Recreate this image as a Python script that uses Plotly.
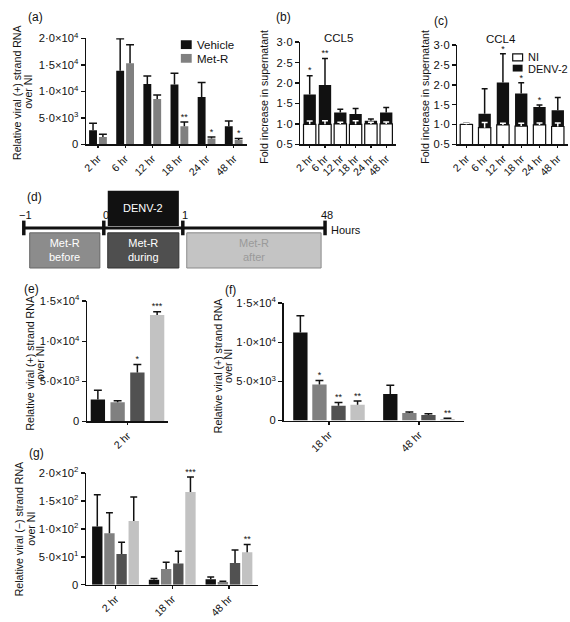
import plotly.graph_objects as go

W, H = 570, 622
FONT = "Liberation Sans, Arial, Helvetica, sans-serif"
INK = "#111111"

# ---------------- data ----------------
hours_a = ["2 hr", "6 hr", "12 hr", "18 hr", "24 hr", "48 hr"]
vehicle_a = [2650, 13900, 11400, 11300, 8950, 3400]
vehicle_a_err = [1350, 6000, 1500, 2100, 2700, 1000]
metr_a = [1400, 15300, 8550, 3400, 1100, 800]
metr_a_err = [500, 3500, 750, 800, 300, 300]
metr_a_sig = ["", "", "", "**", "*", "*"]

hours_bc = ["2 hr", "6 hr", "12 hr", "18 hr", "24 hr", "48 hr"]
ccl5_ni = [0.99, 0.99, 1.0, 0.99, 1.0, 1.0]
ccl5_ni_err = [0.08, 0.09, 0.04, 0.09, 0.04, 0.05]
ccl5_denv = [1.72, 1.95, 1.28, 1.24, 1.08, 1.28]
ccl5_denv_err = [0.46, 0.65, 0.08, 0.14, 0.04, 0.12]
ccl5_sig = ["*", "**", "", "", "", ""]

ccl4_ni = [1.0, 0.92, 0.99, 0.96, 0.99, 0.95]
ccl4_ni_err = [0.03, 0.13, 0.04, 0.07, 0.05, 0.09]
ccl4_denv = [1.02, 1.27, 2.06, 1.78, 1.44, 1.36]
ccl4_denv_err = [0.02, 0.63, 0.72, 0.27, 0.05, 0.32]
ccl4_sig = ["", "", "*", "*", "*", ""]

timeline_ticks = ["\u22121", "0", "1", "48"]
timeline_unit = "Hours"
infection_label = "DENV-2"
stage_labels = ["Met-R<br>before", "Met-R<br>during", "Met-R<br>after"]

groups = ["Vehicle", "Met-R before", "Met-R during", "Met-R after"]

hours_e = ["2 hr"]
e_vals = [[2750], [2400], [6100], [13300]]
e_errs = [[1150], [200], [1000], [400]]
e_sig = [[""], [""], ["*"], ["***"]]

hours_f = ["18 hr", "48 hr"]
f_vals = [[11250, 3400], [4600, 950], [1900, 700], [2000, 200]]
f_errs = [[2150, 1100], [500, 150], [400, 150], [500, 100]]
f_sig = [["", ""], ["*", ""], ["**", ""], ["**", "**"]]

hours_g = ["2 hr", "18 hr", "48 hr"]
g_vals = [[104, 9, 10], [92, 28, 5], [55, 38, 39], [114, 166, 58]]
g_errs = [[57, 2, 4], [37, 12, 1], [21, 22, 23], [43, 27, 14]]
g_sig = [["", "", ""], ["", "", ""], ["", "", ""], ["", "***", "**"]]

y_lab_1e4 = ["0", "5\u00b70\u00d710<sup>3</sup>", "1\u00b70\u00d710<sup>4</sup>",
             "1\u00b75\u00d710<sup>4</sup>", "2\u00b70\u00d710<sup>4</sup>"]
y_val_1e4 = [0, 5000, 10000, 15000, 20000]
y_lab_fold = ["0\u00b75", "1\u00b70", "1\u00b75", "2\u00b70", "2\u00b75", "3\u00b70"]
y_val_fold = [0.5, 1.0, 1.5, 2.0, 2.5, 3.0]
y_lab_1e2 = ["0", "5\u00b70\u00d710<sup>1</sup>", "1\u00b70\u00d710<sup>2</sup>",
             "1\u00b75\u00d710<sup>2</sup>", "2\u00b70\u00d710<sup>2</sup>"]
y_val_1e2 = [0, 50, 100, 150, 200]

# ---------------- styling / geometry ----------------
group_colors = ["#111111", "#808080", "#515151", "#c2c2c2"]
stage_fill = ["#8c8c8c", "#4f4f4f", "#c4c4c4"]
stage_line = ["#666666", "#333333", "#8a8a8a"]
stage_text = ["white", "white", "#9a9a9a"]
TITLE_SIZE = 10.6


def fx(p):
    return p / W


def fy(p):
    return 1 - p / H


fig = go.Figure()
axes_layout = {}
annotations = []
shapes = []


def make_axes(idx, xpx, ypx, xrange, yrange, labels, yvals, ylabs):
    xs = "xaxis" if idx == 1 else f"xaxis{idx}"
    ys = "yaxis" if idx == 1 else f"yaxis{idx}"
    xa = "x" if idx == 1 else f"x{idx}"
    ya = "y" if idx == 1 else f"y{idx}"
    axes_layout[xs] = dict(
        domain=[fx(xpx[0]), fx(xpx[1])], range=xrange, anchor=ya,
        tickmode="array", tickvals=list(range(len(labels))), ticktext=labels,
        tickangle=-45, showline=True, linecolor=INK, linewidth=1.5,
        ticks="outside", ticklen=2.5, tickwidth=1.2, tickcolor=INK,
        showgrid=False, zeroline=False, fixedrange=True,
        tickfont=dict(family=FONT, size=10.6, color=INK))
    axes_layout[ys] = dict(
        domain=[fy(ypx[1]), fy(ypx[0])], range=yrange, anchor=xa,
        tickmode="array", tickvals=yvals, ticktext=ylabs,
        showline=True, linecolor=INK, linewidth=1.5,
        ticks="outside", ticklen=4, tickwidth=1.5, tickcolor=INK,
        showgrid=False, zeroline=False, fixedrange=True,
        tickfont=dict(family=FONT, size=11.2, color=INK))
    ppu = (xpx[1] - xpx[0]) / (xrange[1] - xrange[0])
    return xa, ya, ppu


def add_bars(xa, ya, vals, off, width, color, line_color=None, line_w=0):
    xs = [i + off for i in range(len(vals))]
    fig.add_trace(go.Bar(
        x=xs, y=vals, width=width, xaxis=xa, yaxis=ya,
        marker=dict(color=color, line=dict(color=line_color or color, width=line_w)),
        showlegend=False, hoverinfo="skip"))
    return xs


def add_err(xa, ya, xs, tops, errs, half, color):
    X, Y = [], []
    for x, t, e in zip(xs, tops, errs):
        if e <= 0:
            continue
        X += [x, x, None, x - half, x + half, None]
        Y += [t, t + e, None, t + e, t + e, None]
    fig.add_trace(go.Scatter(x=X, y=Y, mode="lines", line=dict(color=color, width=1.5),
                             xaxis=xa, yaxis=ya, showlegend=False, hoverinfo="skip",
                             cliponaxis=False))


def add_sig(xa, ya, xs, tops, errs, marks):
    X, Y, T = [], [], []
    for x, t, e, m in zip(xs, tops, errs, marks):
        if m:
            X.append(x)
            Y.append(t + e)
            T.append(m)
    if X:
        fig.add_trace(go.Scatter(x=X, y=Y, text=T, mode="text", textposition="top center",
                                 textfont=dict(family=FONT, size=9, color=INK),
                                 xaxis=xa, yaxis=ya, showlegend=False, hoverinfo="skip",
                                 cliponaxis=False))


def note(text, x, y, size=TITLE_SIZE, color=INK, xanchor="center", yanchor="middle", angle=0):
    annotations.append(dict(text=text, x=fx(x), y=fy(y), xref="paper", yref="paper",
                            showarrow=False, textangle=angle, xanchor=xanchor, yanchor=yanchor,
                            font=dict(family=FONT, size=size, color=color)))


def rect(x0, y0, x1, y1, fill, line="rgba(0,0,0,0)", lw=0):
    shapes.append(dict(type="rect", xref="paper", yref="paper", x0=fx(x0), x1=fx(x1),
                       y0=fy(y1), y1=fy(y0), fillcolor=fill, line=dict(color=line, width=lw),
                       layer="above"))


def seg(x0, y0, x1, y1, color, lw):
    shapes.append(dict(type="line", xref="paper", yref="paper", x0=fx(x0), x1=fx(x1),
                       y0=fy(y0), y1=fy(y1), line=dict(color=color, width=lw), layer="above"))


# ---------------- panel (a) ----------------
xa, ya, ppu = make_axes(1, (80, 243), (31, 139.5), [-0.44, 5.49], [0, 20000],
                        hours_a, y_val_1e4, y_lab_1e4)
bw = 8 / ppu
off = 5 / ppu
xs_v = add_bars(xa, ya, vehicle_a, -off, bw, group_colors[0])
xs_m = add_bars(xa, ya, metr_a, off, bw, group_colors[1])
add_err(xa, ya, xs_v, vehicle_a, vehicle_a_err, 4 / ppu, INK)
add_err(xa, ya, xs_m, metr_a, metr_a_err, 4 / ppu, INK)
add_sig(xa, ya, xs_m, metr_a, metr_a_err, metr_a_sig)
note("(a)", 19, 9, size=12, xanchor="left")
note("Relative viral (+) strand RNA", 10, 86, angle=-90)
note("over NI", 21, 86, angle=-90)
rect(176, 33, 187, 42, group_colors[0])
rect(176, 47, 187, 56, group_colors[1])
note("Vehicle", 190, 38, size=11.5, xanchor="left")
note("Met-R", 190, 52, size=11.5, xanchor="left")


# ---------------- panels (b), (c) ----------------
def fold_panel(idx, xpx, ypx, xrange, ni, ni_err, denv, denv_err, sig, title, tpos, letter, lpos, ytx):
    xa, ya, ppu = make_axes(idx, xpx, ypx, xrange, [0.5, 3.0], hours_bc, y_val_fold, y_lab_fold)
    bw = 12.5 / ppu
    xs = add_bars(xa, ya, denv, 0, bw, INK)
    add_bars(xa, ya, ni, 0, bw, "white", INK, 1.2)
    add_err(xa, ya, xs, denv, denv_err, 3 / ppu, INK)
    add_err(xa, ya, xs, ni, ni_err, 3 / ppu, "white")
    add_sig(xa, ya, xs, denv, denv_err, sig)
    note(title, tpos[0], tpos[1], size=11.5)
    note(letter, lpos[0], lpos[1], size=12, xanchor="left")
    note("Fold increase in supernatant", ytx, 91, angle=-90)


fold_panel(2, (297, 394), (35, 139.5), [-0.61, 5.65], ccl5_ni, ccl5_ni_err, ccl5_denv,
           ccl5_denv_err, ccl5_sig, "CCL5", (336, 31), "(b)", (270, 9), 260)
fold_panel(3, (456, 568), (38, 139.5), [-0.49, 5.56], ccl4_ni, ccl4_ni_err, ccl4_denv,
           ccl4_denv_err, ccl4_sig, "CCL4", (500, 32), "(c)", (430, 13), 423)
rect(512, 47, 522, 54, "white", INK, 1.2)
rect(512, 58, 522, 65, INK)
note("NI", 525, 50.5, size=11, xanchor="left")
note("DENV-2", 525, 62, size=11, xanchor="left")

# ---------------- panel (d) timeline ----------------
note("(d)", 18, 193, size=12, xanchor="left")
tick_px = [17, 98, 178, 322]
line_y = 225
rect(102, 187, 174, 223, INK)
note(infection_label, 138, 205, size=11, color="white")
seg(tick_px[0], line_y, tick_px[-1], line_y, INK, 3)
for tx, lab in zip(tick_px, timeline_ticks):
    seg(tx, line_y - 7.5, tx, line_y + 7.5, INK, 3.5)
    note(lab, tx + 2, 212, size=11)
note(timeline_unit, 326, 227, size=11, xanchor="left")
stage_x = [(23, 94), (102, 174), (182, 318)]
for (x0, x1), lab, fc, lc, tc in zip(stage_x, stage_labels, stage_fill, stage_line, stage_text):
    rect(x0, 230, x1, 266, fc, lc, 1)
    note(lab, (x0 + x1) / 2, 248, size=11, color=tc)


# ---------------- panels (e), (f), (g) ----------------
def group_panel(idx, xpx, ypx, xrange, yrange, labels, vals, errs, sig, yv, yl,
                bar_px, pitch_px, cap_px):
    xa, ya, ppu = make_axes(idx, xpx, ypx, xrange, yrange, labels, yv, yl)
    bw = bar_px / ppu
    for k in range(len(vals)):
        off = (k - 1.5) * pitch_px / ppu
        xs = add_bars(xa, ya, vals[k], off, bw, group_colors[k])
        add_err(xa, ya, xs, vals[k], errs[k], cap_px / ppu, INK)
        add_sig(xa, ya, xs, vals[k], errs[k], sig[k])


group_panel(4, (81, 163), (300, 423), [-0.5, 0.5], [0, 15000], hours_e, e_vals, e_errs, e_sig,
            y_val_1e4[:4], y_lab_1e4[:4], 14.5, 20, 4)
note("(e)", 15, 287, size=12, xanchor="left")
note("Relative viral (+) strand RNA", 23, 363, angle=-90)
note("over NI", 33.5, 363, angle=-90)

group_panel(5, (280, 463), (302, 422), [-0.505, 1.505], [0, 15000], hours_f, f_vals, f_errs, f_sig,
            y_val_1e4[:4], y_lab_1e4[:4], 14.5, 19.3, 4)
note("(f)", 219, 289, size=12, xanchor="left")
note("Relative viral (+) strand RNA", 213, 366, angle=-90)
note("over NI", 224, 366, angle=-90)

group_panel(6, (80, 254), (475.7, 590), [-0.52, 2.51], [0, 200], hours_g, g_vals, g_errs, g_sig,
            y_val_1e2, y_lab_1e2, 10.5, 12.3, 3.5)
note("(g)", 20, 455, size=12, xanchor="left")
note("Relative viral (\u2212) strand RNA", 12.5, 533, angle=-90)
note("over NI", 24, 533, angle=-90)

fig.update_layout(
    width=W, height=H, margin=dict(l=0, r=0, t=0, b=0),
    paper_bgcolor="white", plot_bgcolor="white",
    barmode="overlay", showlegend=False,
    font=dict(family=FONT, size=11, color=INK),
    annotations=annotations, shapes=shapes,
    **axes_layout)

fig.write_html("out.html", config={"displayModeBar": False, "staticPlot": True},
               post_script="document.body.style.margin='0';document.body.style.overflow='hidden';")
